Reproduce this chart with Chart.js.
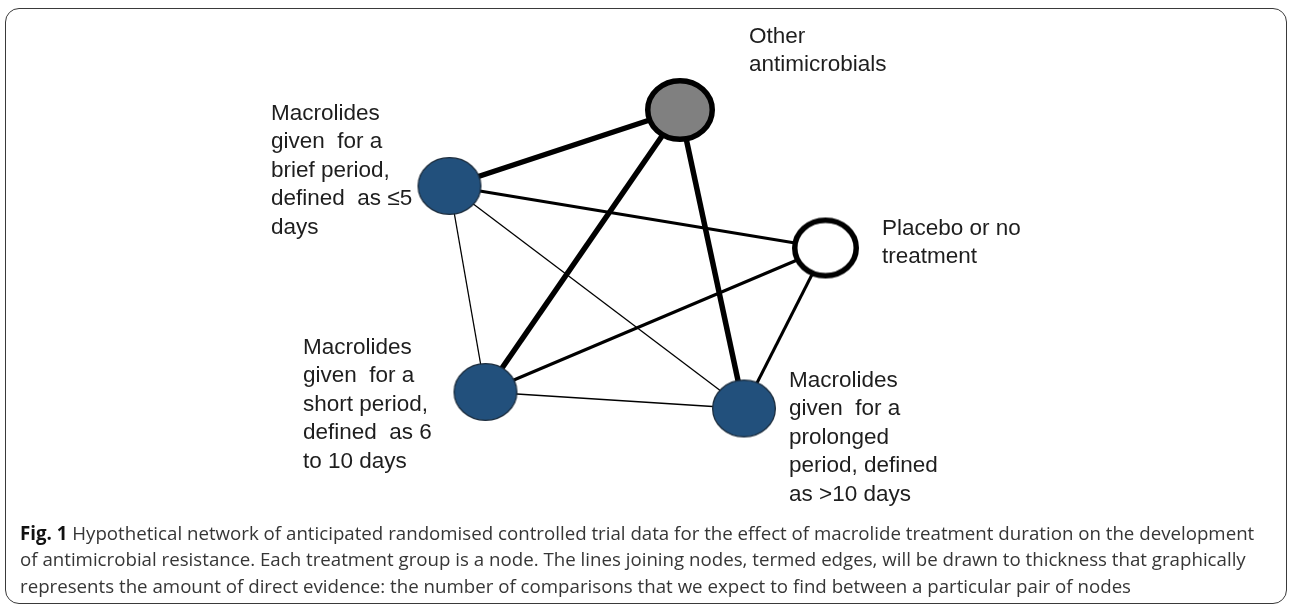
<!DOCTYPE html>
<html>
<head>
<meta charset="utf-8">
<script src="https://cdn.jsdelivr.net/npm/chart.js@4.4.1/dist/chart.umd.min.js"></script>
<style>
  html, body { margin: 0; padding: 0; background: #ffffff; }
  body { width: 1290px; height: 607px; position: relative; overflow: hidden; }
  #frame {
    position: absolute; left: 5px; top: 8px; width: 1280px; height: 594px;
    border: 1.6px solid #3a3a3a; border-radius: 14px; box-sizing: content-box;
  }
  #wrap { position: absolute; left: 0; top: 0; width: 1290px; height: 607px; }
  #caption {
    position: absolute; left: 20px; top: 519.5px; width: 1265px;
    font-family: "Open Sans", "Noto Sans", sans-serif; font-size: 18.7px;
    line-height: 26.5px; color: #363636; white-space: nowrap;
  }
  #caption b { color: #111; }
</style>
</head>
<body>
<div id="frame"></div>
<div id="wrap"><canvas id="c" width="1290" height="607"></canvas></div>
<div id="caption"></div>
<script>
// ---- data ----
const nodeIds = ['brief', 'other', 'placebo', 'short', 'prolonged'];
const nodeLabels = [
  ['Macrolides', 'given  for a', 'brief period,', 'defined  as \u22645', 'days'],
  ['Other', 'antimicrobials'],
  ['Placebo or no', 'treatment'],
  ['Macrolides', 'given  for a', 'short period,', 'defined  as 6', 'to 10 days'],
  ['Macrolides', 'given  for a', 'prolonged', 'period, defined', 'as >10 days']
];
const nodeKind = ['macrolide', 'comparator', 'placebo', 'macrolide', 'macrolide'];
const nodeX = [44.95, 68.0, 82.55, 48.55, 74.4];
const nodeY = [18.6, 11.0, 24.8, 39.2, 40.85];
const edgeFrom = [0, 0, 0, 0, 1, 1, 3, 3, 2];
const edgeTo   = [1, 2, 3, 4, 3, 4, 2, 4, 4];
const edgeWeight = [3, 2, 1, 1, 3, 3, 2, 1, 2];
const captionLines = [
  'Hypothetical network of anticipated randomised controlled trial data for the effect of macrolide treatment duration on the development',
  'of antimicrobial resistance. Each treatment group is a node. The lines joining nodes, termed edges, will be drawn to thickness that graphically',
  'represents the amount of direct evidence: the number of comparisons that we expect to find between a particular pair of nodes'
];

// ---- styles ----
const weightWidth = {1: 1.3, 2: 3, 3: 5.5};
const kindStyle = {
  macrolide:  {fill: '#22507c', stroke: '#1a2b3c', lw: 1.3, rx: 32, ry: 29},
  comparator: {fill: '#808080', stroke: '#000000', lw: 5.5, rx: 35, ry: 32},
  placebo:    {fill: '#ffffff', stroke: '#000000', lw: 5.5, rx: 33.5, ry: 30.5}
};
// label offsets from node centre (px): [dx, dy of first baseline]
const labelOffset = [[-178.5, -66], [69, -67], [56.5, -13], [-182.5, -38], [45, -21.5]];
const labelLineH = 28.4;

function makeNodeImage(st) {
  const pad = 2;
  const w = Math.ceil(st.rx * 2 + pad * 2), h = Math.ceil(st.ry * 2 + pad * 2);
  const cv = document.createElement('canvas');
  cv.width = w; cv.height = h;
  const g = cv.getContext('2d');
  g.beginPath();
  g.ellipse(w / 2, h / 2, st.rx - st.lw / 2, st.ry - st.lw / 2, 0, 0, Math.PI * 2);
  g.fillStyle = st.fill; g.fill();
  g.lineWidth = st.lw; g.strokeStyle = st.stroke; g.stroke();
  return cv;
}

const nodeImages = nodeKind.map(k => makeNodeImage(kindStyle[k]));

const datasets = [{
  label: 'nodes',
  order: 0,
  data: nodeIds.map((id, i) => ({x: nodeX[i], y: nodeY[i]})),
  pointStyle: nodeImages,
  pointRadius: 30,
  showLine: false
}];
edgeFrom.forEach((a, i) => {
  const b = edgeTo[i];
  datasets.push({
    label: nodeIds[a] + '-' + nodeIds[b],
    order: 1,
    data: [{x: nodeX[a], y: nodeY[a]}, {x: nodeX[b], y: nodeY[b]}],
    showLine: true,
    borderColor: '#000000',
    borderWidth: weightWidth[edgeWeight[i]],
    pointRadius: 0,
    borderCapStyle: 'butt'
  });
});

const labelPlugin = {
  id: 'nodeLabels',
  afterDatasetsDraw(chart) {
    const ctx = chart.ctx;
    const meta = chart.getDatasetMeta(0);
    ctx.save();
    ctx.font = '22.5px "Liberation Sans", Arial, sans-serif';
    ctx.fillStyle = '#1e1e1e';
    ctx.textBaseline = 'alphabetic';
    ctx.textAlign = 'left';
    meta.data.forEach((pt, i) => {
      const [dx, dy] = labelOffset[i];
      nodeLabels[i].forEach((line, j) => {
        ctx.fillText(line, pt.x + dx, pt.y + dy + j * labelLineH);
      });
    });
    ctx.restore();
  }
};

new Chart(document.getElementById('c'), {
  type: 'scatter',
  data: {datasets},
  options: {
    responsive: false,
    animation: false,
    events: [],
    layout: {padding: 0, autoPadding: false},
    plugins: {legend: {display: false}, tooltip: {enabled: false}},
    scales: {
      x: {type: 'linear', min: 0, max: 129, display: false},
      y: {type: 'linear', min: 0, max: 60.7, reverse: true, display: false}
    }
  },
  plugins: [labelPlugin]
});

const cap = document.getElementById('caption');
cap.innerHTML = '<b>Fig. 1</b> ' + captionLines[0] + '<br>' + captionLines[1] + '<br>' + captionLines[2];
</script>
</body>
</html>
